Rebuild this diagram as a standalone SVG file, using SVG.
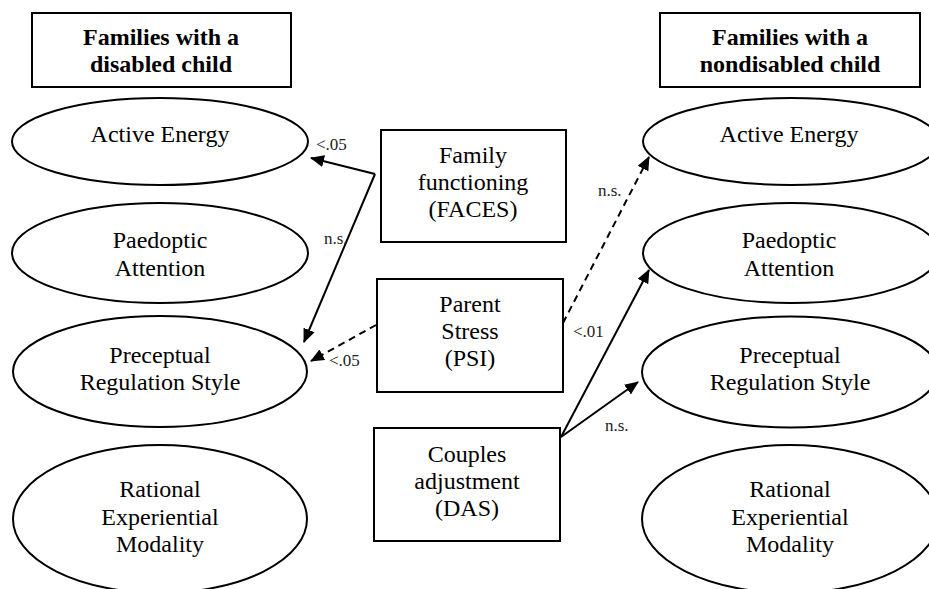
<svg xmlns="http://www.w3.org/2000/svg" width="929" height="589" viewBox="0 0 929 589">
<style>
.bg{fill:#fff}
.shape{fill:#fff;stroke:#000;stroke-width:2}
.t{font-family:"Liberation Serif","Times New Roman",serif;font-size:24px;fill:#000;text-anchor:middle}
.h{font-family:"Liberation Serif","Times New Roman",serif;font-size:24px;font-weight:bold;fill:#000;text-anchor:middle}
.lbl{font-family:"Liberation Serif","Times New Roman",serif;font-size:17px;fill:#222}
.c{fill:none;stroke:#000;stroke-width:2;marker-end:url(#ah)}
.d{stroke-dasharray:7 5}
</style>
<defs>
<marker id="ah" viewBox="0 0 14 12" refX="13" refY="6" markerWidth="14" markerHeight="12" markerUnits="userSpaceOnUse" orient="auto">
<path d="M0,0 L14,6 L0,12 Z" fill="#000"/>
</marker>
</defs>
<rect class="bg" x="0" y="0" width="929" height="589"/>

<g id="header-left">
<rect class="shape" x="32" y="13" width="259" height="74"/>
<text class="h" x="161" y="45">Families with a</text>
<text class="h" x="161" y="72">disabled child</text>
</g>
<g id="header-right">
<rect class="shape" x="660" y="13" width="260" height="74"/>
<text class="h" x="790" y="45">Families with a</text>
<text class="h" x="790" y="72">nondisabled child</text>
</g>

<g id="l-active">
<ellipse class="shape" cx="160" cy="141.5" rx="148" ry="43.5"/>
<text class="t" x="160" y="142">Active Energy</text>
</g>
<g id="l-paedoptic">
<ellipse class="shape" cx="160" cy="253" rx="148" ry="50"/>
<text class="t" x="160" y="248">Paedoptic</text>
<text class="t" x="160" y="276">Attention</text>
</g>
<g id="l-preceptual">
<ellipse class="shape" cx="160" cy="371.5" rx="147" ry="55.5"/>
<text class="t" x="160" y="363">Preceptual</text>
<text class="t" x="160" y="390">Regulation Style</text>
</g>
<g id="l-rational">
<ellipse class="shape" cx="160" cy="519" rx="147" ry="74"/>
<text class="t" x="160" y="497">Rational</text>
<text class="t" x="160" y="525">Experiential</text>
<text class="t" x="160" y="552">Modality</text>
</g>

<g id="faces">
<rect class="shape" x="381" y="130" width="185" height="112"/>
<text class="t" x="473" y="163">Family</text>
<text class="t" x="473" y="190">functioning</text>
<text class="t" x="473" y="217">(FACES)</text>
</g>
<g id="psi">
<rect class="shape" x="377" y="279" width="186" height="113"/>
<text class="t" x="470" y="312">Parent</text>
<text class="t" x="470" y="339">Stress</text>
<text class="t" x="470" y="366">(PSI)</text>
</g>
<g id="das">
<rect class="shape" x="374" y="428" width="186" height="113"/>
<text class="t" x="467" y="462">Couples</text>
<text class="t" x="467" y="489">adjustment</text>
<text class="t" x="467" y="516">(DAS)</text>
</g>

<g id="r-active">
<ellipse class="shape" cx="791" cy="141.5" rx="148" ry="43.5"/>
<text class="t" x="789" y="142">Active Energy</text>
</g>
<g id="r-paedoptic">
<ellipse class="shape" cx="791" cy="253" rx="148" ry="50"/>
<text class="t" x="789" y="248">Paedoptic</text>
<text class="t" x="789" y="276">Attention</text>
</g>
<g id="r-preceptual">
<ellipse class="shape" cx="790" cy="372" rx="148" ry="55.5"/>
<text class="t" x="790" y="363">Preceptual</text>
<text class="t" x="790" y="390">Regulation Style</text>
</g>
<g id="r-rational">
<ellipse class="shape" cx="790" cy="519" rx="148" ry="74"/>
<text class="t" x="790" y="497">Rational</text>
<text class="t" x="790" y="525">Experiential</text>
<text class="t" x="790" y="552">Modality</text>
</g>

<g id="connectors">
<path class="c" d="M375,174 L311,158"/>
<path class="c" d="M375,174 L304,342"/>
<path class="c d" d="M376,325 L311,361"/>
<path class="c d" d="M563,323 L649,157"/>
<path class="c" d="M561,437 L649,270"/>
<path class="c" d="M561,437 L638,382"/>
<text class="lbl" x="316" y="150">&lt;.05</text>
<text class="lbl" x="324" y="244">n.s.</text>
<text class="lbl" x="329" y="366">&lt;.05</text>
<text class="lbl" x="598" y="196">n.s.</text>
<text class="lbl" x="573" y="337">&lt;.01</text>
<text class="lbl" x="605" y="431">n.s.</text>
</g>
</svg>
